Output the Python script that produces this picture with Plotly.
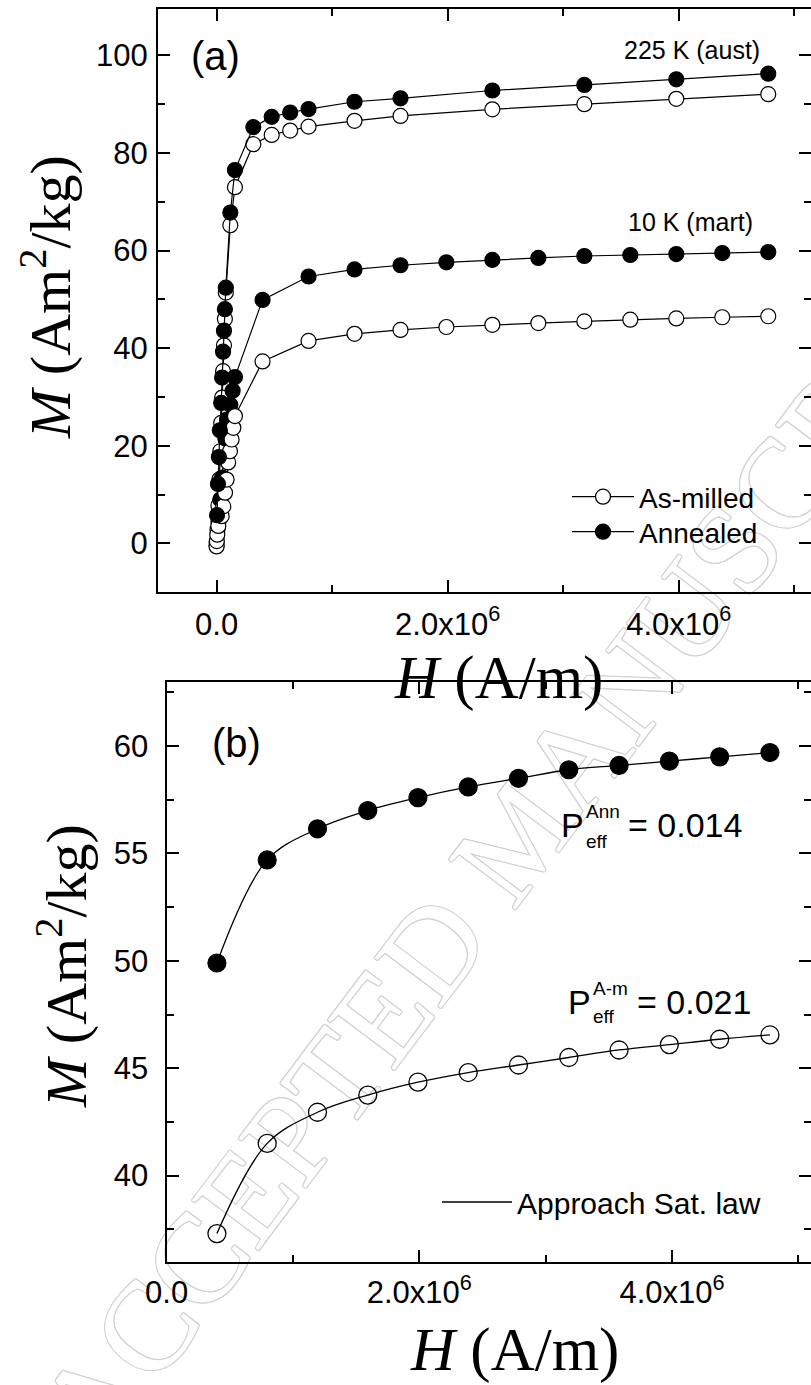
import plotly.graph_objects as go

W, HGT = 811, 1385


def xp(px):
    return px / W


def yp(py):
    return 1 - py / HGT


SANS = "Liberation Sans, Arial, sans-serif"
SERIF = "Liberation Serif, Times New Roman, serif"

# ---------------- data (H in A/m, M in Am2/kg) ----------------
# high-field points shared by the 10 K curves and panel (b)
H_HIGH = [3.98e5, 7.96e5, 1.194e6, 1.592e6, 1.989e6, 2.387e6,
          2.785e6, 3.183e6, 3.581e6, 3.979e6, 4.377e6, 4.775e6]
M_10K_ANN_HIGH = [49.9, 54.7, 56.15, 57.0, 57.6, 58.1,
                  58.5, 58.9, 59.1, 59.3, 59.5, 59.7]
M_10K_AM_HIGH = [37.3, 41.5, 42.95, 43.75, 44.35, 44.8,
                 45.15, 45.5, 45.85, 46.1, 46.35, 46.55]

# low-field points at 10 K
H_10K_ANN_LOW = [0.0, 1.6e4, 3.2e4, 4.8e4, 6.4e4, 7.6e4, 9.0e4, 1.19e5, 1.39e5, 1.59e5]
M_10K_ANN_LOW = [0.2, 4.5, 9.0, 13.5, 17.5, 21.5, 25.4, 28.4, 31.3, 34.1]
H_10K_AM_LOW = [0.0, 2.0e3, 6.0e3, 1.5e4, 4.4e4, 5.8e4, 7.3e4, 8.7e4,
                1.0e5, 1.16e5, 1.30e5, 1.45e5, 1.59e5]
M_10K_AM_LOW = [-0.6, 0.5, 1.8, 3.6, 5.6, 7.6, 10.4, 13.1,
                16.6, 18.9, 21.3, 23.7, 26.1]

# 225 K curves
H_225_ANN = [4.0e3, 1.2e4, 2.0e4, 2.8e4, 4.0e4, 4.8e4, 5.6e4, 6.4e4, 7.2e4, 8.0e4,
             1.19e5, 1.59e5, 3.18e5, 4.77e5, 6.37e5, 7.96e5, 1.194e6, 1.592e6,
             2.387e6, 3.183e6, 3.979e6, 4.775e6]
M_225_ANN = [5.8, 12.2, 17.7, 23.2, 28.8, 34.0, 39.3, 43.6, 48.0, 52.4,
             67.8, 76.5, 85.3, 87.4, 88.3, 89.0, 90.5, 91.2,
             92.8, 93.95, 95.1, 96.25]
H_225_AM = [0.0, 8.0e3, 1.6e4, 2.4e4, 3.2e4, 4.0e4, 4.8e4, 5.6e4, 6.4e4, 7.2e4, 8.0e4,
            1.19e5, 1.59e5, 3.18e5, 4.77e5, 6.37e5, 7.96e5, 1.194e6, 1.592e6,
            2.387e6, 3.183e6, 3.979e6, 4.775e6]
M_225_AM = [-0.4, 2.8, 7.8, 13.1, 18.9, 24.7, 29.9, 35.3, 40.6, 46.0, 51.4,
            65.2, 73.0, 81.8, 83.7, 84.6, 85.4, 86.6, 87.6,
            88.95, 90.0, 91.1, 92.05]

H_10K_ANN = H_10K_ANN_LOW + H_HIGH
M_10K_ANN = M_10K_ANN_LOW + M_10K_ANN_HIGH
H_10K_AM = H_10K_AM_LOW + H_HIGH
M_10K_AM = M_10K_AM_LOW + M_10K_AM_HIGH

X_TICKS = [0, 2e6, 4e6]
X_TICKTEXT = ["0.0", "2.0x10<sup>6</sup>", "4.0x10<sup>6</sup>"]
X_MINOR = [1e6, 3e6, 5e6]

TOP_X_RANGE = [-0.507e6, 5.145e6]
TOP_Y_RANGE = [-10, 109.5]
BOT_X_RANGE = [-0.001e6, 5.1e6]
BOT_Y_RANGE = [36.0, 63.0]

fig = go.Figure()

line_style = dict(color="black", width=1.2)


def top_trace(x, y, filled, name, legend):
    return go.Scatter(
        x=x, y=y, mode="lines+markers", name=name,
        showlegend=legend is not None, legend=legend or "legend",
        line=line_style,
        marker=dict(symbol="circle", size=15,
                    color="black" if filled else "white",
                    line=dict(color="black", width=1.2)),
        xaxis="x", yaxis="y", hoverinfo="skip")


fig.add_trace(top_trace(H_225_AM, M_225_AM, False, "As-milled", None))
fig.add_trace(top_trace(H_10K_ANN, M_10K_ANN, True, "Annealed", "legend3"))
fig.add_trace(top_trace(H_10K_AM, M_10K_AM, False, "As-milled", "legend"))
fig.add_trace(top_trace(H_225_ANN, M_225_ANN, True, "Annealed", None))

# panel (b): smooth approach-to-saturation curves through the data + markers
fig.add_trace(go.Scatter(
    x=H_HIGH, y=M_10K_ANN_HIGH, mode="lines", line=dict(color="black", width=1.3, shape="spline"),
    name="Approach Sat. law", showlegend=True, legend="legend2",
    xaxis="x2", yaxis="y2", hoverinfo="skip"))
fig.add_trace(go.Scatter(
    x=H_HIGH, y=M_10K_AM_HIGH, mode="lines", line=dict(color="black", width=1.3, shape="spline"),
    showlegend=False, xaxis="x2", yaxis="y2", hoverinfo="skip"))
fig.add_trace(go.Scatter(
    x=H_HIGH, y=M_10K_ANN_HIGH, mode="markers",
    marker=dict(symbol="circle", size=18, color="black", line=dict(color="black", width=1.2)),
    showlegend=False, xaxis="x2", yaxis="y2", hoverinfo="skip"))
fig.add_trace(go.Scatter(
    x=H_HIGH, y=M_10K_AM_HIGH, mode="markers",
    marker=dict(symbol="circle-open", size=18, color="black", line=dict(color="black", width=1.3)),
    showlegend=False, xaxis="x2", yaxis="y2", hoverinfo="skip"))

# dummy traces that activate the right-hand tick axes
fig.add_trace(go.Scatter(x=[None], y=[None], xaxis="x", yaxis="y3", showlegend=False, hoverinfo="skip"))
fig.add_trace(go.Scatter(x=[None], y=[None], xaxis="x2", yaxis="y4", showlegend=False, hoverinfo="skip"))

tick_common = dict(
    ticks="inside", ticklen=12, tickwidth=2, tickcolor="black",
    showgrid=False, zeroline=False, automargin=False,
    tickfont=dict(family=SANS, size=31, color="black"),
)
minor_common = dict(ticks="inside", ticklen=7, tickwidth=2, tickcolor="black", showgrid=False)
xaxis_common = dict(showline=True, linecolor="black", linewidth=2, mirror="ticks", **tick_common)
yaxis_common = dict(showline=True, linecolor="black", linewidth=2, mirror=False, **tick_common)

TOP_DOM_X = [xp(158), 1.0]
BOT_DOM_X = [xp(166.5), 1.0]
TOP_DOM_Y = [yp(592.3), yp(9)]
BOT_DOM_Y = [yp(1261.5), yp(681.7)]

fig.update_layout(
    width=W, height=HGT,
    margin=dict(l=0, r=0, t=0, b=0, pad=0, autoexpand=False),
    paper_bgcolor="white", plot_bgcolor="rgba(0,0,0,0)",
    showlegend=True,
    xaxis=dict(**xaxis_common, domain=TOP_DOM_X, anchor="y",
               range=TOP_X_RANGE, tickmode="array",
               tickvals=X_TICKS, ticktext=X_TICKTEXT,
               minor=dict(**minor_common, tickmode="array", tickvals=X_MINOR),
               ticklabelstandoff=3),
    yaxis=dict(**yaxis_common, domain=TOP_DOM_Y, anchor="x",
               range=TOP_Y_RANGE, tickmode="linear", tick0=0, dtick=20,
               minor=dict(**minor_common, tick0=0, dtick=10),
               ticklabelstandoff=2),
    # right-hand ticks of panel (a) without a frame line (the frame lies outside the picture)
    yaxis3=dict(**tick_common, showline=False, overlaying="y", side="right", anchor="x",
                range=TOP_Y_RANGE, tickmode="linear", tick0=0, dtick=20,
                showticklabels=False,
                minor=dict(**minor_common, tick0=0, dtick=10)),
    xaxis2=dict(**xaxis_common, domain=BOT_DOM_X, anchor="y2",
                range=BOT_X_RANGE, tickmode="array",
                tickvals=X_TICKS, ticktext=X_TICKTEXT,
                minor=dict(**minor_common, tickmode="array", tickvals=X_MINOR),
                ticklabelstandoff=2),
    yaxis2=dict(**yaxis_common, domain=BOT_DOM_Y, anchor="x2",
                range=BOT_Y_RANGE, tickmode="linear", tick0=40, dtick=5,
                minor=dict(**minor_common, tick0=40, dtick=2.5),
                ticklabelstandoff=10),
    yaxis4=dict(**tick_common, showline=False, overlaying="y2", side="right", anchor="x2",
                range=BOT_Y_RANGE, tickmode="linear", tick0=40, dtick=5,
                showticklabels=False,
                minor=dict(**minor_common, tick0=40, dtick=2.5)),
    legend=dict(x=xp(567), y=yp(497), xanchor="left", yanchor="middle",
                bgcolor="rgba(0,0,0,0)", borderwidth=0, itemwidth=62,
                font=dict(family=SANS, size=28, color="black")),
    legend3=dict(x=xp(567), y=yp(532), xanchor="left", yanchor="middle",
                 bgcolor="rgba(0,0,0,0)", borderwidth=0, itemwidth=62,
                 font=dict(family=SANS, size=28, color="black")),
    legend2=dict(x=xp(437), y=yp(1202), xanchor="left", yanchor="middle",
                 bgcolor="rgba(0,0,0,0)", borderwidth=0, itemwidth=70,
                 font=dict(family=SANS, size=30, color="black")),
)

# watermark: outlined serif text drawn below the data (shape labels, layer below)
shapes = []
WM_X, WM_Y = 507, 826
WM_TEXT = "ACCEPTED MANUSCRIPT"
offsets = [(-1.2, 0), (1.2, 0), (0, -1.2), (0, 1.2), (-0.9, -0.9), (0.9, 0.9),
           (-0.9, 0.9), (0.9, -0.9), (0, 0)]
for i, (dx, dy) in enumerate(offsets):
    col = "white" if i == len(offsets) - 1 else "#d2d2d2"
    cx, cy = WM_X + dx, WM_Y + dy
    shapes.append(dict(
        type="rect", xref="paper", yref="paper",
        x0=xp(cx - 1), x1=xp(cx + 1), y0=yp(cy + 1), y1=yp(cy - 1),
        line=dict(width=0), fillcolor="rgba(0,0,0,0)", layer="below",
        label=dict(text=WM_TEXT, textangle=-53, textposition="middle center",
                   font=dict(family=SERIF, size=127, color=col))))
fig.update_layout(shapes=shapes)

annotations = []


def ann(text, x, y, size, family=SANS, xanchor="center", yanchor="middle", angle=0):
    annotations.append(dict(
        text=text, x=xp(x), y=yp(y), xref="paper", yref="paper",
        xanchor=xanchor, yanchor=yanchor, showarrow=False, textangle=angle,
        font=dict(family=family, size=size, color="black")))


ann("(a)", 215, 56, 40)
ann("(b)", 236, 743, 40)
ann("225 K (aust)", 692, 50, 25)
ann("10 K (mart)", 690, 222, 25)

# axis titles
ann("<i>M</i> (Am<sup>2</sup>/kg)", 47, 297, 58, family=SERIF, angle=-90)
ann("<i>M</i> (Am<sup>2</sup>/kg)", 62, 966, 58, family=SERIF, angle=-90)
ann("<i>H</i> (A/m)", 498, 678, 61, family=SERIF)
ann("<i>H</i> (A/m)", 514, 1350, 61, family=SERIF)

# effective P annotations
ann("P", 572.5, 825, 34)
ann("Ann", 584, 811, 19, xanchor="left")
ann("eff", 584, 841, 19, xanchor="left")
ann("= 0.014", 626, 825, 34, xanchor="left")
ann("P", 579.5, 1002, 34)
ann("A-m", 591, 988, 19, xanchor="left")
ann("eff", 591, 1016, 19, xanchor="left")
ann("= 0.021", 635, 1002, 34, xanchor="left")

fig.update_layout(annotations=annotations)

fig.write_html("out.html")
